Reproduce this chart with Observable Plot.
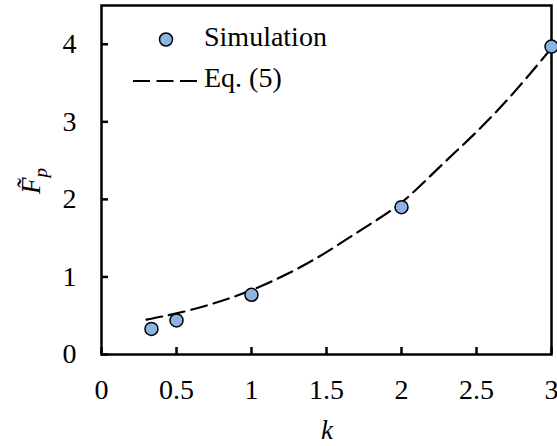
<!DOCTYPE html>
<html>
<head>
<meta charset="utf-8">
<script src="https://cdn.jsdelivr.net/npm/d3@7"></script>
<script src="https://cdn.jsdelivr.net/npm/@observablehq/plot@0.6"></script>
<style>
  html, body { margin: 0; padding: 0; background: white; }
  svg text { font-family: "Liberation Serif", "Times New Roman", serif; }
</style>
</head>
<body>
<div id="chart"></div>
<script>
// Simulation points
const simK = [0.333, 0.5, 1, 2, 3];
const simF = [0.33, 0.44, 0.77, 1.90, 3.97];
// Eq. (5) curve
const eqK = [0.3, 0.5, 0.75, 1, 1.25, 1.5, 1.75, 2, 2.25, 2.5, 2.75, 3];
const eqF = [0.45, 0.53, 0.66, 0.83, 1.05, 1.32, 1.63, 1.96, 2.41, 2.87, 3.38, 3.95];
// Ticks
const xTicks = [0, 0.5, 1, 1.5, 2, 2.5, 3];
const xTickLabels = ["0", "0.5", "1", "1.5", "2", "2.5", "3"];
const yTicks = [0, 1, 2, 3, 4];
const yTickLabels = ["0", "1", "2", "3", "4"];
const legendLabels = ["Simulation", "Eq. (5)"];

const sim = simK.map((k, i) => ({k, f: simF[i]}));
const eq = eqK.map((k, i) => ({k, f: eqF[i]}));

const W = 557, H = 446;
const mL = 101, mR = 6, mT = 5, mB = 92;
const plotW = W - mL - mR, plotH = H - mT - mB;
const serif = '"Liberation Serif", "Times New Roman", serif';
const FS = 28;

const chart = Plot.plot({
  width: W, height: H,
  marginLeft: mL, marginRight: mR, marginTop: mT, marginBottom: mB,
  style: {fontFamily: serif, fontSize: FS + "px", background: "white", color: "black"},
  x: {domain: [0, 3], label: null},
  y: {domain: [0, 4.5], label: null},
  marks: [
    Plot.axisX(xTicks, {tickSize: 0, tickPadding: 25, fontSize: FS, tickFormat: (d, i) => xTickLabels[i], label: null}),
    Plot.axisY(yTicks, {tickSize: 0, tickPadding: 25, fontSize: FS, tickFormat: (d, i) => yTickLabels[i], label: null}),
    Plot.tickX(xTicks, {x: d => d, insetTop: plotH - 7, stroke: "black", strokeWidth: 2.5}),
    Plot.tickY(yTicks, {y: d => d, insetRight: plotW - 7, stroke: "black", strokeWidth: 2.5}),
    Plot.line(eq, {x: "k", y: "f", curve: "natural", stroke: "black", strokeWidth: 2.2, strokeDasharray: "16,7"}),
    Plot.frame({stroke: "black", strokeWidth: 2.5}),
    Plot.dot(sim, {x: "k", y: "f", r: 6.5, fill: "#8DB3E2", stroke: "black", strokeWidth: 1.5})
  ]
});

const svg = d3.select(chart);
// Legend
const lg = svg.append("g").attr("text-anchor", "start");
lg.append("circle").attr("cx", 166).attr("cy", 39.5).attr("r", 6.5)
  .attr("fill", "#8DB3E2").attr("stroke", "black").attr("stroke-width", 1.5);
lg.append("text").attr("x", 204).attr("y", 46).attr("font-size", FS)
  .attr("text-anchor", "start").attr("font-family", serif).attr("fill", "black").text(legendLabels[0]);
lg.append("line").attr("x1", 133).attr("x2", 197).attr("y1", 81).attr("y2", 81)
  .attr("stroke", "black").attr("stroke-width", 2.2).attr("stroke-dasharray", "17,6.5");
lg.append("text").attr("x", 204).attr("y", 87).attr("font-size", FS)
  .attr("text-anchor", "start").attr("font-family", serif).attr("fill", "black").text(legendLabels[1]);

// Axis titles
svg.append("text").attr("x", 327).attr("y", 439).attr("text-anchor", "middle")
  .attr("font-size", 27).attr("font-style", "italic").attr("font-family", serif)
  .attr("fill", "black").text("k");
const yl = svg.append("text").attr("transform", "translate(40,181) rotate(-90)")
  .attr("text-anchor", "middle").attr("font-size", 27).attr("font-style", "italic")
  .attr("font-family", serif).attr("fill", "black");
yl.append("tspan").text("F\u0303");
yl.append("tspan").attr("dy", 7).attr("font-size", 19).text("p");

document.getElementById("chart").appendChild(chart);
</script>
</body>
</html>
